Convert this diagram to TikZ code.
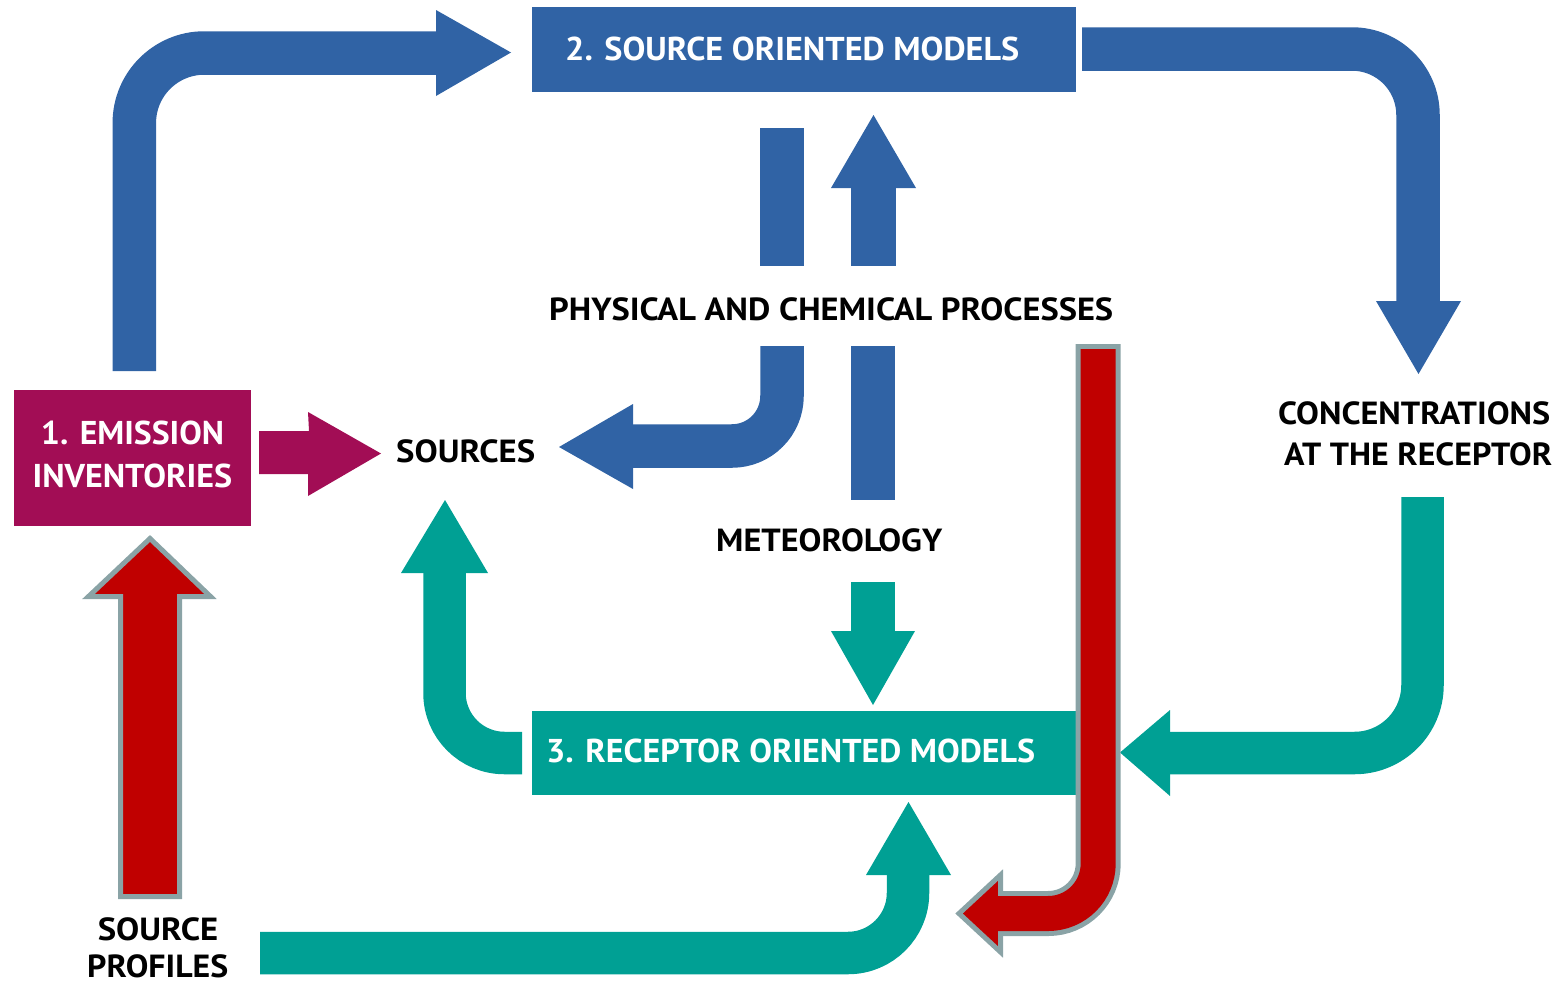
\documentclass[tikz,border=0pt]{standalone}
\usepackage{fontspec}
\setmainfont{PT Sans}
\usepackage{graphicx}

\definecolor{emblue}{RGB}{48,99,165}
\definecolor{emmagenta}{RGB}{162,13,85}
\definecolor{emteal}{RGB}{0,160,148}
\definecolor{emred}{RGB}{192,0,0}
\definecolor{emgrey}{RGB}{138,163,166}

% set a label at the current font and stretch it horizontally to a given width (in pt)
\newlength\labw
\newcommand\fitto[2]{\settowidth\labw{#2}\scalebox{\fpeval{#1/\labw}}[1]{#2}}

\tikzset{
  lbl/.style={inner sep=0pt, font=\fontsize{32}{36}\selectfont\bfseries, text=black},
  boxlbl/.style={inner sep=0pt, font=\fontsize{33}{38}\selectfont\bfseries, text=white},
  modelbox/.style={inner sep=0pt, draw=none, rectangle},
  bluebend/.style={draw=emblue, line width=43.5pt},
  tealbend/.style={draw=emteal, line width=42.5pt},
  redback/.style={draw=emgrey, line width=45pt},
  redfront/.style={draw=emred, line width=35pt},
  redhead/.style={fill=emred, draw=emgrey, line width=5pt, line join=miter},
}

\begin{document}
\begin{tikzpicture}[x=1pt,y=-1pt]
\useasboundingbox (0,0) rectangle (1559,985);

% ---- model boxes ----
\node[modelbox, fill=emmagenta, minimum width=237.3pt, minimum height=135.7pt, anchor=north west] (emi) at (13.4,390) {};
\node[modelbox, fill=emblue, minimum width=544pt, minimum height=85pt, anchor=north west] (som) at (531.5,7) {};
\node[modelbox, fill=emteal, minimum width=544.5pt, minimum height=84pt, anchor=north west] (rom) at (531.5,711) {};

\node[boxlbl, anchor=west] (somtxt) at (565,48.5) {\fitto{454}{2. SOURCE ORIENTED MODELS}};
\node[boxlbl, anchor=west] (romtxt) at (546,751) {\fitto{489}{3. RECEPTOR ORIENTED MODELS}};
\node[boxlbl] (emi1) at (132.5,433) {\fitto{183}{1. EMISSION}};
\node[boxlbl] (emi2) at (132.3,475.5) {\fitto{199.5}{INVENTORIES}};

% ---- free labels ----
\node[lbl, anchor=west] (src) at (396,451.5) {\fitto{139}{SOURCES}};
\node[lbl, anchor=west] (phys) at (549,309) {\fitto{564}{PHYSICAL AND CHEMICAL PROCESSES}};
\node[lbl, anchor=west] (met) at (716,540) {\fitto{226}{METEOROLOGY}};
\node[lbl, anchor=west] (conc1) at (1278,413) {\fitto{272}{CONCENTRATIONS}};
\node[lbl, anchor=west] (conc2) at (1284,454) {\fitto{268}{AT THE RECEPTOR}};
\node[lbl, anchor=west] (prof1) at (97.6,929) {\fitto{120.5}{SOURCE}};
\node[lbl, anchor=west] (prof2) at (87,966.5) {\fitto{141}{PROFILES}};

% ---- blue arrows (source oriented side) ----
% emission inventories -> source oriented models
\draw[bluebend, rounded corners=70pt] (134.3,371) |- (437,53);
\fill[emblue] (436,10) -- (511,52.5) -- (436,96) -- cycle;
% source oriented models -> concentrations at the receptor
\draw[bluebend, rounded corners=66pt] (1082,49) -| (1418,302);
\fill[emblue] (1376,301) -- (1418.5,374) -- (1461,301) -- cycle;
% processes <-> model
\fill[emblue] (760,128) rectangle (804,266);
\fill[emblue] (851,187) rectangle (896,266);
\fill[emblue] (831,188) -- (873.5,115) -- (916,188) -- cycle;
\fill[emblue] (851,346) rectangle (895,500);
% processes -> sources
\draw[bluebend, rounded corners=50pt] (782,346) |- (632,446);
\fill[emblue] (633,404) -- (559,447) -- (633,489) -- cycle;

% ---- emission inventories -> sources ----
\fill[emmagenta] (259,431) -- (309,431) -- (308,412) -- (381,453.5) -- (308,496) -- (308,474) -- (259,474) -- cycle;

% ---- teal arrows (receptor oriented side) ----
% meteorology -> receptor models
\fill[emteal] (851,582) rectangle (895,632);
\fill[emteal] (831,631) -- (873,705) -- (915,631) -- cycle;
% receptor models -> sources
\draw[tealbend, rounded corners=60pt] (522,753) -| (444.5,572);
\fill[emteal] (401,573) -- (445,500) -- (488,573) -- cycle;
% source profiles -> receptor models
\draw[tealbend, rounded corners=60pt] (260,953) -| (908,874);
\fill[emteal] (866,875) -- (908.5,802) -- (951,875) -- cycle;
% concentrations -> receptor models
\draw[tealbend, rounded corners=68pt] (1422.5,497) |- (1169,753);
\fill[emteal] (1170,710) -- (1120,752.5) -- (1170,796) -- cycle;

% ---- red arrows ----
% source profiles -> emission inventories
\filldraw[redhead] (120.5,896.5) -- (120.5,596.5) -- (88.5,596.5) -- (150,538.5)
  -- (210.5,596.5) -- (179.5,596.5) -- (179.5,896.5) -- cycle;
% processes -> receptor side
\draw[redback, rounded corners=50pt] (1098.2,344) |- (1001,913.5);
\filldraw[redhead] (1000.5,875) -- (959,913.5) -- (1000.5,952) -- cycle;
\draw[redfront, rounded corners=50pt] (1098.2,349) |- (994,913.5);
\end{tikzpicture}
\end{document}
